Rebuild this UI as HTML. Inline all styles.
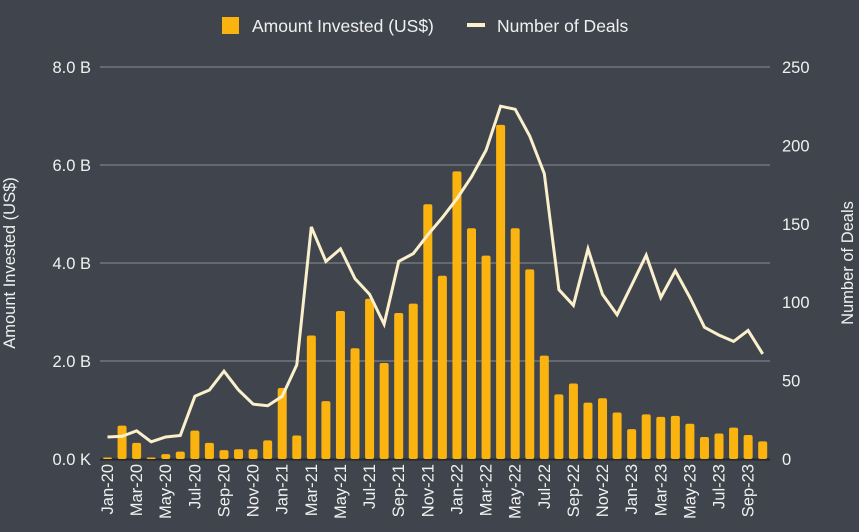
<!DOCTYPE html>
<html><head><meta charset="utf-8"><style>
body{margin:0;background:#40454d;}
svg{display:block;font-family:"Liberation Sans",sans-serif;}
</style></head><body>
<svg id="c" width="859" height="532">
<rect width="859" height="532" fill="#40454d"/>
<g id="legend">
<rect x="222" y="17" width="17" height="17" fill="#fbb40f"/>
<text x="252" y="32" fill="#f0f0f0" font-size="17.5">Amount Invested (US$)</text>
<rect x="467" y="23" width="18" height="4" fill="#fbf0cc"/>
<text x="497" y="32" fill="#f0f0f0" font-size="17.5">Number of Deals</text>
</g>
<text transform="translate(15,263) rotate(-90)" text-anchor="middle" fill="#f0f0f0" font-size="16.5">Amount Invested (US$)</text>
<text transform="translate(853,263) rotate(-90)" text-anchor="middle" fill="#f0f0f0" font-size="16.5">Number of Deals</text>
<g id="grid"></g><g id="bars"></g><g id="line"></g><g id="xl"></g>
</svg>
<script>
const months=["Jan-20","Feb-20","Mar-20","Apr-20","May-20","Jun-20","Jul-20","Aug-20","Sep-20","Oct-20","Nov-20","Dec-20","Jan-21","Feb-21","Mar-21","Apr-21","May-21","Jun-21","Jul-21","Aug-21","Sep-21","Oct-21","Nov-21","Dec-21","Jan-22","Feb-22","Mar-22","Apr-22","May-22","Jun-22","Jul-22","Aug-22","Sep-22","Oct-22","Nov-22","Dec-22","Jan-23","Feb-23","Mar-23","Apr-23","May-23","Jun-23","Jul-23","Aug-23","Sep-23","Oct-23"];
const amounts=[0.03,0.68,0.33,0.03,0.1,0.15,0.58,0.33,0.18,0.2,0.2,0.38,1.45,0.48,2.52,1.18,3.02,2.26,3.27,1.96,2.98,3.17,5.2,3.74,5.87,4.71,4.15,6.82,4.71,3.87,2.11,1.32,1.54,1.15,1.24,0.95,0.61,0.91,0.86,0.88,0.72,0.45,0.52,0.64,0.49,0.36];
const deals=[14,14.5,18,11,14,15,40,44,56,44,35,34,40,60,148,126,134,115,105,86,126,131,143,154,166,180,197,225,223,206,182,108,98,134,105,92,111,130,103,120,103,84,79,75,82,67];
const leftTicks=[0,2,4,6,8];
const leftLabels=["0.0 K","2.0 B","4.0 B","6.0 B","8.0 B"];
const rightTicks=[0,50,100,150,200,250];
const NS="http://www.w3.org/2000/svg";
const y0=459,yTop=67,x0=100,x1=770;
const yL=v=>y0-(v/8)*(y0-yTop);
const yR=v=>y0-(v/250)*(y0-yTop);
const step=14.56;
const xC=i=>107.5+i*step;
function mk(t,a,p){const e=document.createElementNS(NS,t);for(const k in a)e.setAttribute(k,a[k]);p.appendChild(e);return e;}
const grid=document.getElementById('grid');
leftTicks.forEach((v,i)=>{
 if(v>0){const l=mk('line',{x1:x0,x2:x1,y1:yL(v),y2:yL(v),stroke:'#8c8f94','stroke-width':1},grid);
 
 }
 const t=mk('text',{x:91,y:yL(v)+6,'text-anchor':'end',fill:'#f0f0f0','font-size':16.5},grid);t.textContent=leftLabels[i];
 
 
});
rightTicks.forEach(v=>{
 const t=mk('text',{x:782,y:yR(v)+6,fill:'#f0f0f0','font-size':16.5},grid);t.textContent=v;
 
 
});
const base=mk('line',{x1:x0,x2:x1,y1:y0+0.5,y2:y0+0.5,stroke:'#25282d','stroke-width':2},grid);


const bars=document.getElementById('bars');
amounts.forEach((v,i)=>{
 const h=y0-yL(v);
 const r=mk('rect',{x:xC(i)-4.5,y:yL(v),width:9,height:Math.max(h,1),rx:2,fill:'#fbb40f'},bars);
 
 
});
const pts=deals.map((v,i)=>xC(i).toFixed(1)+','+yR(v).toFixed(1)).join(' ');
const pl=mk('polyline',{points:pts,fill:'none',stroke:'#fbf0cc','stroke-width':3,'stroke-linejoin':'miter'},document.getElementById('line'));


const xl=document.getElementById('xl');
months.forEach((m,i)=>{
 if(i%2)return;
 const t=mk('text',{transform:`translate(${xC(i)+5.5},464) rotate(-90)`,'text-anchor':'end',fill:'#f0f0f0','font-size':16.5},xl);
 t.textContent=m;
 
 
});
</script>
</body></html>
